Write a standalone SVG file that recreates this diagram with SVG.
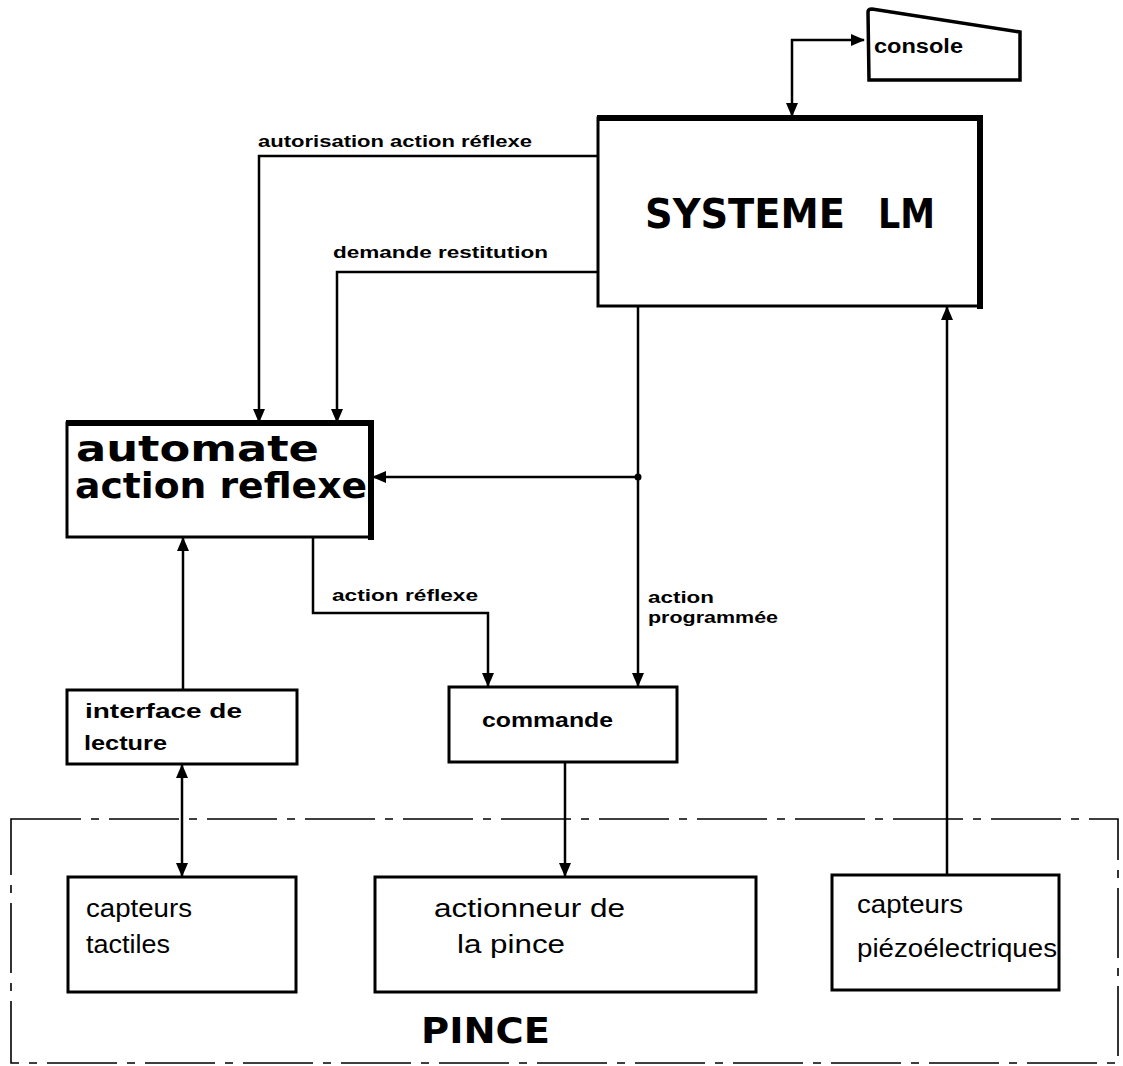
<svg xmlns="http://www.w3.org/2000/svg" width="1123" height="1066" viewBox="0 0 1123 1066">
<style>
.box{fill:#fff;stroke:#000;stroke-width:3}
.thick{fill:none;stroke:#000;stroke-width:6;stroke-linecap:square}
.ln{fill:none;stroke:#000;stroke-width:2.5}
.lbl{font-family:"Liberation Sans",Arial,sans-serif;font-weight:bold;font-size:16px;fill:#000}
.nd{font-family:"Liberation Sans",Arial,sans-serif;font-weight:bold;font-size:20px;fill:#000}
.cond{font-family:"Liberation Sans Narrow","Liberation Sans",Arial,sans-serif;font-size:25px;fill:#000}
.big{font-family:"DejaVu Sans","Liberation Sans",sans-serif;font-weight:bold;fill:#000}
.dash{fill:none;stroke:#000;stroke-width:1.6;stroke-dasharray:70 10 8 10}
</style>
<defs>
<marker id="ah" markerUnits="userSpaceOnUse" markerWidth="14" markerHeight="12" refX="13" refY="6" orient="auto-start-reverse" viewBox="0 0 14 12">
<path d="M0,0 L14,6 L0,12 z" fill="#000"/>
</marker>
</defs>

<g id="pince">
<rect x="11" y="819" width="1107" height="244" class="dash"/>
<text x="421" y="1043" class="big" font-size="36" textLength="129" lengthAdjust="spacingAndGlyphs">PINCE</text>
</g>

<g id="console">
<path d="M868,12 Q868,9 872,9 L1020,32 L1020,80 L869,80 Z" fill="#fff" stroke="#000" stroke-width="3.5"/>
<text x="874" y="53" class="nd" textLength="89" lengthAdjust="spacingAndGlyphs">console</text>
</g>

<g id="systeme">
<rect x="598" y="118" width="382" height="188" class="box" stroke-width="4"/>
<path d="M600,118 L980,118 L980,306" class="thick"/>
<text y="228" class="big" font-size="40"><tspan x="645" textLength="200" lengthAdjust="spacingAndGlyphs">SYSTEME</tspan> <tspan x="878" textLength="57" lengthAdjust="spacingAndGlyphs">LM</tspan></text>
</g>

<g id="automate">
<rect x="67" y="423" width="304" height="114" class="box"/>
<path d="M69,423 L371,423 L371,537" class="thick"/>
<text x="76" y="461" class="big" font-size="36" textLength="243" lengthAdjust="spacingAndGlyphs">automate</text>
<text x="75" y="498" class="big" font-size="36" textLength="292" lengthAdjust="spacingAndGlyphs">action reflexe</text>
</g>

<g id="interface">
<rect x="67" y="690" width="230" height="74" class="box"/>
<text x="85" y="718" class="nd" textLength="157" lengthAdjust="spacingAndGlyphs">interface de</text>
<text x="84" y="750" class="nd" textLength="83" lengthAdjust="spacingAndGlyphs">lecture</text>
</g>

<g id="commande">
<rect x="449" y="687" width="228" height="75" class="box"/>
<text x="482" y="727" class="nd" textLength="131" lengthAdjust="spacingAndGlyphs">commande</text>
</g>

<g id="tactiles">
<rect x="68" y="877" width="228" height="115" class="box"/>
<text x="86" y="917" class="cond" textLength="106" lengthAdjust="spacingAndGlyphs">capteurs</text>
<text x="86" y="953" class="cond" textLength="84" lengthAdjust="spacingAndGlyphs">tactiles</text>
</g>

<g id="actionneur">
<rect x="375" y="877" width="381" height="115" class="box"/>
<text x="434" y="917" class="cond" textLength="191" lengthAdjust="spacingAndGlyphs">actionneur de</text>
<text x="457" y="953" class="cond" textLength="108" lengthAdjust="spacingAndGlyphs">la pince</text>
</g>

<g id="piezo">
<rect x="832" y="875" width="227" height="115" class="box"/>
<text x="857" y="913" class="cond" textLength="106" lengthAdjust="spacingAndGlyphs">capteurs</text>
<text x="857" y="957" class="cond" textLength="200" lengthAdjust="spacingAndGlyphs">piézoélectriques</text>
</g>

<g id="connectors">
<path d="M792,116 L792,40 L864,40" class="ln" marker-start="url(#ah)" marker-end="url(#ah)"/>
<path d="M598,156 L259,156 L259,422" class="ln" marker-end="url(#ah)"/>
<text x="258" y="147" class="lbl" textLength="274" lengthAdjust="spacingAndGlyphs">autorisation action réflexe</text>
<path d="M598,272 L337,272 L337,422" class="ln" marker-end="url(#ah)"/>
<text x="333" y="258" class="lbl" textLength="215" lengthAdjust="spacingAndGlyphs">demande restitution</text>
<path d="M638,306 L638,686" class="ln" marker-end="url(#ah)"/>
<path d="M638,477 L373,477" class="ln" marker-end="url(#ah)"/>
<circle cx="638" cy="477" r="3.5" fill="#000"/>
<path d="M313,537 L313,613 L488,613 L488,686" class="ln" marker-end="url(#ah)"/>
<text x="332" y="601" class="lbl" textLength="146" lengthAdjust="spacingAndGlyphs">action réflexe</text>
<text x="648" y="603" class="lbl" textLength="66" lengthAdjust="spacingAndGlyphs">action</text>
<text x="648" y="623" class="lbl" textLength="130" lengthAdjust="spacingAndGlyphs">programmée</text>
<path d="M183,690 L183,538" class="ln" marker-end="url(#ah)"/>
<path d="M182,765 L182,876" class="ln" marker-start="url(#ah)" marker-end="url(#ah)"/>
<path d="M565,762 L565,876" class="ln" marker-end="url(#ah)"/>
<path d="M947,875 L947,307" class="ln" marker-end="url(#ah)"/>
</g>
</svg>
